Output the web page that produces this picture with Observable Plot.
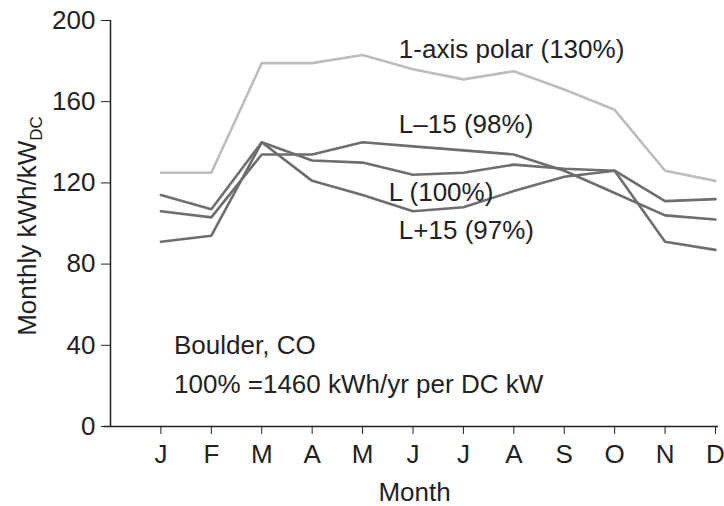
<!DOCTYPE html>
<html>
<head>
<meta charset="utf-8">
<script src="https://cdn.jsdelivr.net/npm/d3@7"></script>
<script src="https://cdn.jsdelivr.net/npm/@observablehq/plot@0.6"></script>
<style>
  html, body { margin: 0; padding: 0; background: #fff; }
  #chart svg { font-family: "Liberation Sans", Arial, Helvetica, sans-serif; }
</style>
</head>
<body>
<div id="chart"></div>
<script>
const months = ["J","F","M","A","M","J","J","A","S","O","N","D"];
const polar = [125, 125, 179, 179, 183, 176, 171, 175, 166, 156, 126, 121];
const latL = [114, 107, 140, 131, 130, 124, 125, 129, 127, 126, 111, 112];
const latMinus15 = [106, 103, 134, 134, 140, 138, 136, 134, 126, 115, 104, 102];
const latPlus15 = [91, 94, 140, 121, 114, 106, 108, 116, 123, 126, 91, 87];
const yTicks = [0, 40, 80, 120, 160, 200];

const seriesNames = ["1-axis polar", "L", "L-15", "L+15"];
const seriesValues = [polar, latL, latMinus15, latPlus15];
const rows = seriesNames.flatMap((s, k) => seriesValues[k].map((v, i) => ({series: s, month: i, value: v})));

const labels = [
  {text: "1-axis polar (130%)", x: 4.72, y: 185.5},
  {text: "L\u201315 (98%)", x: 4.72, y: 148.5},
  {text: "L (100%)", x: 4.52, y: 115},
  {text: "L+15 (97%)", x: 4.72, y: 96.5},
  {text: "Boulder, CO", x: 0.26, y: 40},
  {text: "100% =1460 kWh/yr per DC kW", x: 0.26, y: 20.5}
];

const FS = 26;

const chart = Plot.plot({
  width: 724,
  height: 506,
  marginLeft: 110,
  marginRight: 6,
  marginTop: 20,
  marginBottom: 80,
  style: {fontFamily: "'Liberation Sans', Arial, Helvetica, sans-serif", fontSize: FS + "px", color: "#222", background: "#fff"},
  x: {domain: [-1, 11.06]},
  y: {domain: [0, 200]},
  color: {domain: seriesNames, range: ["#bdbdbd", "#6e6e6e", "#6e6e6e", "#6e6e6e"]},
  marks: [
    Plot.axisX({ticks: d3.range(12), tickFormat: i => months[i], tickSize: 8, tickPadding: 10, label: "Month", labelAnchor: "center", labelArrow: "none", labelOffset: 74, fontSize: FS, stroke: "#222"}),
    Plot.axisY({ticks: yTicks, tickSize: 9, tickPadding: 6, label: null, fontSize: FS, stroke: "#222"}),
    Plot.lineY(rows, {x: "month", y: "value", z: "series", stroke: "series", strokeWidth: 2.6, strokeLinejoin: "miter"}),
    Plot.ruleX([-1], {y1: 0, y2: 200, stroke: "#222", strokeWidth: 1.5}),
    Plot.ruleY([0], {x1: -1.12, x2: 11.06, stroke: "#222", strokeWidth: 1.5}),
    Plot.text(labels, {x: "x", y: "y", text: "text", textAnchor: "start", fontSize: FS, fill: "#222"})
  ]
});

document.getElementById("chart").appendChild(chart);

// Y-axis title with subscript
const svg = d3.select(chart);
const t = svg.append("text")
  .attr("transform", "translate(36,226) rotate(-90)")
  .attr("text-anchor", "middle")
  .attr("font-size", FS)
  .attr("fill", "#222");
t.append("tspan").text("Monthly kWh/kW");
t.append("tspan").attr("font-size", 17).attr("dy", "0.35em").text("DC");
</script>
</body>
</html>
